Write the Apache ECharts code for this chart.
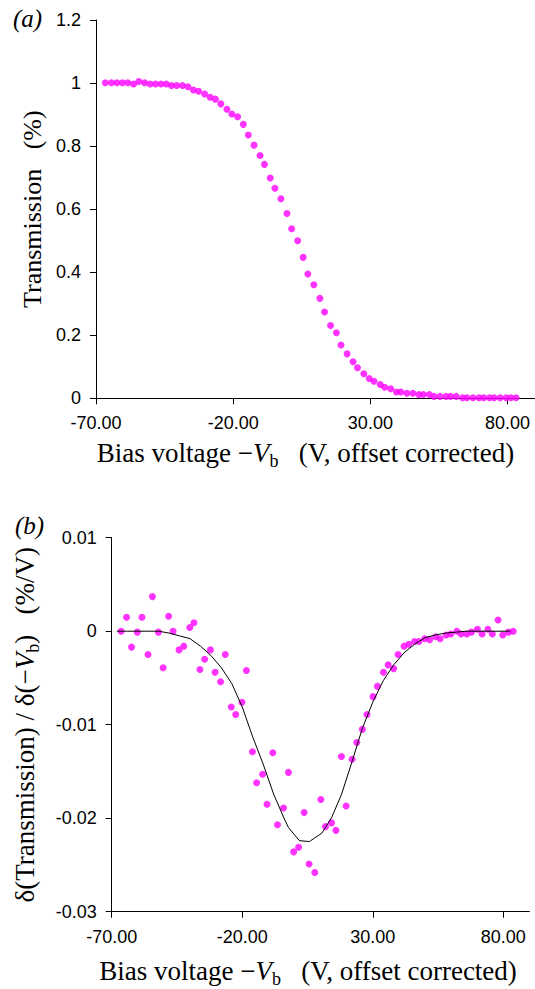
<!DOCTYPE html>
<html>
<head>
<meta charset="utf-8">
<script src="https://cdn.jsdelivr.net/npm/echarts@6/dist/echarts.min.js"></script>
<style>
html,body{margin:0;padding:0;background:#fff;}
#chart{width:535px;height:989px;}
</style>
</head>
<body>
<div id="chart"></div>
<script>
// ---- data ----
// (a) Transmission vs bias voltage
const transX = [-66.6,-64.4,-62.4,-60.4,-58.4,-56.3,-54.4,-52.3,-50.3,-48.3,-46.3,-44.4,-42.5,-40.6,-38.5,-36.5,-34.5,-32.6,-30.4,-28.4,-26.5,-24.5,-22.3,-20.5,-18.4,-16.3,-14.5,-12.4,-10.2,-8.6,-6.5,-4.8,-2.6,-0.4,1.3,3.5,5.5,7.2,9.4,11.6,13.3,15.5,17.6,19.3,21.5,23.7,25.3,27.6,29.6,31.3,33.6,35.2,37.4,39.5,41.1,43.3,45.5,47.7,49.3,51.5,53.2,55.4,57.6,59.2,61.3,63.6,65.2,67.4,69.6,71.3,73.4,75.1,77.3,79.5,81.2,83.1];
const transY = [1.001,1.001,1.001,1.001,1.001,0.997,1.005,1.001,0.997,0.997,0.997,0.997,0.992,0.992,0.992,0.988,0.978,0.974,0.965,0.955,0.949,0.934,0.917,0.902,0.893,0.869,0.835,0.803,0.770,0.742,0.699,0.666,0.633,0.586,0.538,0.500,0.447,0.394,0.360,0.317,0.274,0.231,0.208,0.169,0.141,0.116,0.097,0.078,0.063,0.054,0.044,0.035,0.030,0.020,0.020,0.016,0.016,0.012,0.012,0.012,0.006,0.006,0.006,0.006,0.006,0.002,0.002,0.002,0.002,0.002,0.002,0.002,0.002,0.002,0.002,0.002];

// (b) derivative points
const derivX = [-66.4,-64.3,-62.4,-60.2,-58.4,-56.1,-54.4,-52.1,-50.3,-48.2,-46.5,-44.2,-42.4,-40.1,-38.5,-36.2,-34.4,-32.2,-30.4,-28.3,-26.5,-24.2,-22.5,-20.1,-18.4,-16.1,-14.5,-12.2,-10.5,-8.3,-6.5,-4.2,-2.3,-0.3,1.6,3.7,5.6,7.8,10.1,11.9,14.2,15.9,18.0,19.8,22.1,23.9,26.0,27.8,30.1,31.8,34.1,35.9,38.0,39.7,42.0,43.8,46.0,47.7,49.9,51.8,54.1,55.8,58.1,59.9,62.2,63.8,66.0,67.8,70.1,71.9,74.1,75.8,78.0,79.8,82.0,83.8];
const derivY = [0.0000,0.0015,-0.0017,-0.0001,0.0015,-0.0025,0.0037,-0.0001,-0.0039,0.0016,0.0000,-0.0020,-0.0016,0.0004,0.0009,-0.0041,-0.0030,-0.0020,-0.0044,-0.0054,-0.0025,-0.0081,-0.0089,-0.0076,-0.0042,-0.0129,-0.0162,-0.0153,-0.0185,-0.0130,-0.0207,-0.0189,-0.0151,-0.0236,-0.0231,-0.0194,-0.0249,-0.0258,-0.0180,-0.0209,-0.0205,-0.0213,-0.0134,-0.0187,-0.0137,-0.0119,-0.0105,-0.0089,-0.0070,-0.0059,-0.0044,-0.0036,-0.0040,-0.0025,-0.0016,-0.0014,-0.0011,-0.0011,-0.0008,-0.0009,-0.0006,-0.0008,-0.0004,-0.0003,0.0000,-0.0003,-0.0003,-0.0001,0.0002,-0.0003,0.0002,-0.0003,0.0012,-0.0004,-0.0001,0.0000];

// (b) fitted curve
const fitX = [-68,-64,-60,-56,-52,-48,-44,-40,-36,-32,-28,-24,-20,-16,-12,-8,-4,-2.3,1.9,5.7,10.5,14.3,18.1,22,26,30,34,38,42,46,50,54,58,62,66,70,74,78,82.6];
const fitY = [0,0,0,0,0,-0.0002,-0.0005,-0.0008,-0.0016,-0.0026,-0.0039,-0.0056,-0.0081,-0.0113,-0.0142,-0.0174,-0.0200,-0.0210,-0.0224,-0.0225,-0.0216,-0.0199,-0.0174,-0.0140,-0.0104,-0.0076,-0.0053,-0.0036,-0.0023,-0.0014,-0.0007,-0.0004,-0.0002,-0.0001,0,0,0,0,0];

const xTickValues = [-70,-20,30,80];
const xMin = -70, xMax = 90;
const yTopMin = 0, yTopMax = 1.2, yTopStep = 0.2;
const yBotMin = -0.03, yBotMax = 0.01, yBotStep = 0.01;

const xTitle = '{n|Bias voltage \u2212}{i|V}{s|b}{n|   (V, offset corrected)}';
const yTopTitle = '{t|Transmission   (%)}';
const yBotTitle = '{n|\u03b4(Transmission) / \u03b4(\u2212}{i|V}{s|b}{n|)   (%/V)}';

// ---- chart ----
const serif = '"Liberation Serif","Times New Roman",serif';
const sans = '"Liberation Sans",Arial,sans-serif';
const rich = {
  n: {fontFamily: serif, fontSize: 27, color: '#000', lineHeight: 34},
  t: {fontFamily: serif, fontSize: 26, color: '#000', lineHeight: 34},
  i: {fontFamily: serif, fontSize: 27, fontStyle: 'italic', color: '#000', lineHeight: 34},
  s: {fontFamily: serif, fontSize: 18, color: '#000', lineHeight: 34, verticalAlign: 'bottom'}
};
const axisLineStyle = {show: true, onZero: false, lineStyle: {color: '#000', width: 1}};
const tickStyle = {show: true, inside: false, length: 6, lineStyle: {color: '#000', width: 1}};
const labelStyle = {color: '#000', fontFamily: sans, fontSize: 18};

const zip = (a, b) => a.map((v, i) => [v, b[i]]);

const chart = echarts.init(document.getElementById('chart'), null, {renderer: 'svg'});
chart.setOption({
  animation: false,
  backgroundColor: '#fff',
  grid: [
    {left: 96, top: 20, width: 440.5, height: 378.3},
    {left: 111.7, top: 537.7, width: 417.7, height: 374}
  ],
  xAxis: [0, 1].map(g => ({
    type: 'value', gridIndex: g, min: xMin, max: xMax, interval: 50,
    axisLine: axisLineStyle,
    axisTick: Object.assign({customValues: xTickValues}, tickStyle),
    axisLabel: Object.assign({customValues: xTickValues, margin: 16,
      formatter: v => v.toFixed(2)}, labelStyle),
    splitLine: {show: false},
    name: xTitle, nameLocation: 'middle', nameGap: g === 0 ? 38 : 42,
    nameTextStyle: {rich: rich, padding: [0, g === 0 ? 20 : 25, 0, 0]}
  })),
  yAxis: [
    {type: 'value', gridIndex: 0, min: yTopMin, max: yTopMax, interval: yTopStep,
     axisLine: axisLineStyle, axisTick: tickStyle,
     axisLabel: Object.assign({margin: 15}, labelStyle),
     splitLine: {show: false},
     name: yTopTitle, nameLocation: 'middle', nameGap: 47,
     nameTextStyle: {rich: rich}},
    {type: 'value', gridIndex: 1, min: yBotMin, max: yBotMax, interval: yBotStep,
     axisLine: axisLineStyle, axisTick: tickStyle,
     axisLabel: Object.assign({margin: 15}, labelStyle),
     splitLine: {show: false},
     name: yBotTitle, nameLocation: 'middle', nameGap: 70,
     nameTextStyle: {rich: rich}}
  ],
  graphic: [
    {type: 'text', left: 13, top: 6, style: {text: '(a)', font: 'italic 25px ' + serif, fill: '#000'}},
    {type: 'text', left: 15, top: 513, style: {text: '(b)', font: 'italic 25px ' + serif, fill: '#000'}}
  ],
  series: [
    {type: 'scatter', xAxisIndex: 0, yAxisIndex: 0, data: zip(transX, transY),
     symbol: 'circle', symbolSize: 7, itemStyle: {color: '#ff00ff'}},
    {type: 'line', xAxisIndex: 1, yAxisIndex: 1, data: zip(fitX, fitY),
     showSymbol: false, symbol: 'none', smooth: false,
     lineStyle: {color: '#000', width: 1}},
    {type: 'scatter', xAxisIndex: 1, yAxisIndex: 1, data: zip(derivX, derivY),
     symbol: 'circle', symbolSize: 7, itemStyle: {color: '#ff00ff'}}
  ]
});
</script>
</body>
</html>
